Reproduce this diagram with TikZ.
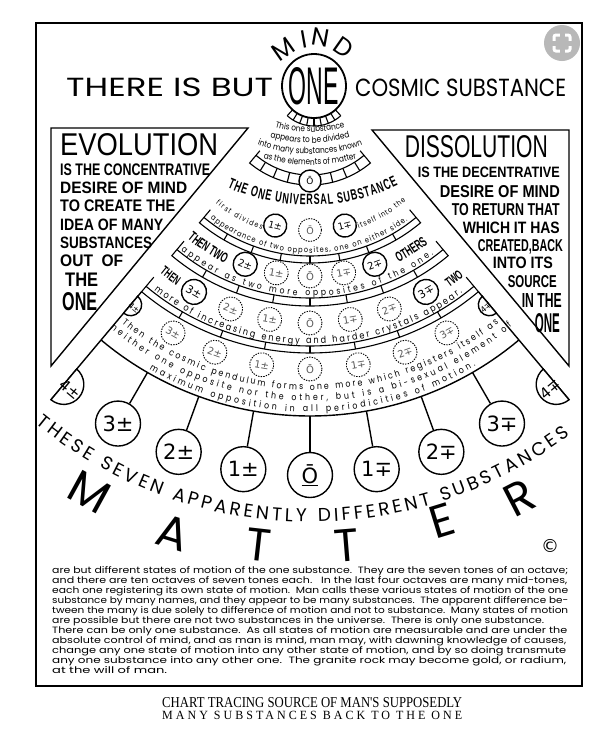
\documentclass[tikz,border=0pt]{standalone}
\usepackage{fontspec}
\usepackage{graphicx}
\usetikzlibrary{calc,decorations.text}
\newfontfamily\pop{Poppins}
\newfontfamily\popn[FakeStretch=0.85]{Poppins}
\newfontfamily\condf[FakeStretch=0.6]{Liberation Sans}
\newfontfamily\boxf[FakeStretch=0.85]{Liberation Sans}
\newfontfamily\dvs{DejaVu Sans}
\newfontfamily\serf{Liberation Serif}
\newcommand\fitbox[3]{\resizebox{#1pt}{#2pt}{#3}}
\newcommand\fz[1]{\fontsize{#1}{#1}\selectfont}
\tikzset{
  ln/.style={line width=1.4pt},
  bandln/.style={line width=1.1pt},
  sc/.style={circle, draw, line width=1.4pt, fill=white, minimum size=#1, inner sep=0pt},
  dc/.style={circle, draw, line width=0.9pt, dash pattern=on 1.4pt off 1.2pt, fill=white, minimum size=#1, inner sep=0pt, text=black!65},
  ftext/.style 2 args={decorate, decoration={text along path, text={|#1|#2}, text align=fit to path}},
  ctext/.style 2 args={decorate, decoration={text along path, text={|#1|#2}, text align=center}},
  txt/.style={inner sep=0pt},
}
\newcommand\bandarc[4]{%
  \draw[bandln] ($(C)+(230:#3)$) -- ($(C)+(230:#2)$) arc[start angle=230,end angle=310,radius=#2] -- ($(C)+(310:#3)$);
  \draw[bandln] ($(C)+(230:#1)$) arc[start angle=230,end angle=310,radius=#1];
  \foreach \tk in {#4} \draw[bandln] ($(C)+(\tk:#1)$) -- ($(C)+(\tk:#2)$);
}
\begin{document}
\begin{tikzpicture}[x=1pt,y=1pt]
\useasboundingbox (0,0) rectangle (606,-745);
\fill[white] (0,0) rectangle (606,-745);
\coordinate (C) at (310,-91);
\coordinate (F) at (310,0);
\coordinate (O) at (314,-86);
% frame
\draw[line width=1.6pt] (36,-23) rectangle (582,-686);
% icon
\fill[black!28] (562,-43) circle (18);
\draw[white, line width=3pt, rounded corners=2pt] (554,-35) rectangle (570,-51);
\fill[black!28] (559.5,-30) rectangle (564.5,-56);
\fill[black!28] (549,-40.5) rectangle (575,-45.5);
% side boxes
\coordinate (ev1) at (51,-128); \coordinate (ev2) at (248,-128); \coordinate (ev3) at (51,-366);
\draw[ln] (ev1) -- (ev2) -- (ev3) -- cycle;
\coordinate (ds1) at (569,-130); \coordinate (ds2) at (372,-130); \coordinate (ds3) at (569,-366);
\draw[ln] (ds1) -- (ds2) -- (ds3) -- cycle;
% left box text
\node[txt, anchor=north west] (e1) at (60,-133) {\fitbox{158}{22}{\boxf EVOLUTION}};
\node[txt, anchor=north west] (e2) at (60,-163.5) {\fitbox{150}{11.7}{\condf\bfseries IS THE CONCENTRATIVE}};
\node[txt, anchor=north west] (e3) at (60,-182) {\fitbox{127}{11.5}{\condf\bfseries DESIRE OF MIND}};
\node[txt, anchor=north west] (e4) at (60,-200) {\fitbox{115}{11.7}{\condf\bfseries TO CREATE THE}};
\node[txt, anchor=north west] (e5) at (60,-218.5) {\fitbox{103}{11.5}{\condf\bfseries IDEA OF MANY}};
\node[txt, anchor=north west] (e6) at (60,-237) {\fitbox{92}{11.5}{\condf\bfseries SUBSTANCES}};
\node[txt, anchor=north west] (e7) at (60,-255) {\fitbox{63}{11.7}{\condf\bfseries OUT\ \ OF}};
\node[txt, anchor=north west] (e8) at (65,-273) {\fitbox{33}{13.5}{\condf\bfseries THE}};
\node[txt, anchor=north west] (e9) at (62,-292) {\fitbox{35}{18}{\condf\bfseries ONE}};
% right box text
\node[txt, anchor=north east] (d1) at (548,-135) {\fitbox{143}{22}{\boxf DISSOLUTION}};
\node[txt, anchor=north east] (d2) at (560,-167) {\fitbox{142}{10.5}{\condf\bfseries IS THE DECENTRATIVE}};
\node[txt, anchor=north east] (d3) at (560,-185) {\fitbox{120}{12}{\condf\bfseries DESIRE OF MIND}};
\node[txt, anchor=north east] (d4) at (560,-203) {\fitbox{108}{12}{\condf\bfseries TO RETURN THAT}};
\node[txt, anchor=north east] (d5) at (560,-222) {\fitbox{97}{11.5}{\condf\bfseries WHICH IT HAS}};
\node[txt, anchor=north east] (d6) at (563,-239) {\fitbox{85}{12}{\condf\bfseries CREATED,BACK}};
\node[txt, anchor=north east] (d7) at (553,-257) {\fitbox{60}{11.5}{\condf\bfseries INTO ITS}};
\node[txt, anchor=north east] (d8) at (557,-275) {\fitbox{49}{12}{\condf\bfseries SOURCE}};
\node[txt, anchor=north east] (d9) at (562,-293) {\fitbox{40}{14}{\condf\bfseries IN THE}};
\node[txt, anchor=north east] (d10) at (560,-313) {\fitbox{25}{19}{\condf\bfseries ONE}};
% title
\node[txt, anchor=north west] (t1) at (66,-78) {\fitbox{207}{18.5}{\pop THERE IS BUT}};
\node[txt, anchor=north west] (t2) at (355,-79) {\fitbox{211}{17.5}{\pop COSMIC SUBSTANCE}};
% comb and ONE
\draw[bandln] ($(O)+(228:40)$) arc[start angle=228,end angle=312,radius=40];
\foreach \tk in {228,238.5,249,259.5,270,280.5,291,301.5,312} \draw[bandln] ($(O)+(\tk:30)$) -- ($(O)+(\tk:40)$);
\node[circle, draw, line width=1.8pt, fill=white, minimum size=64pt, inner sep=0pt] (one) at (O) {};
\node[txt] (onet) at (O) {\fitbox{50}{37}{\condf ONE}};
\node[txt, rotate=35] (mM) at (283,-49) {\pop\fz{25}M};
\node[txt, rotate=10] (mI) at (304,-39) {\pop\fz{25}I};
\node[txt, rotate=-10] (mN) at (321,-37) {\pop\fz{25}N};
\node[txt, rotate=-35] (mD) at (344,-47) {\pop\fz{25}D};
% bands
\bandarc{84}{94}{78}{238,247,256,284,293,302}
\bandarc{165}{172}{155}{240,250,260,270,280,290,300}
\bandarc{207}{215}{196}{240,250,260,270,280,290,300}
\bandarc{255}{262}{243}{240,250,260,270,280,290,300}
% edges and outer arc
\coordinate (eL1) at ($(C)+(230:262)$); \coordinate (eL2) at ($(C)+(230:403)$);
\coordinate (eR1) at ($(C)+(310:262)$); \coordinate (eR2) at ($(C)+(310:403)$);
\draw[ln] (eL1) -- (eL2); \draw[ln] (eR1) -- (eR2);
\draw[ln] ($(C)+(230:325)$) arc[start angle=230,end angle=310,radius=325];
% row 1
\node[sc=22pt] (r1) at ($(C)+(270:90)$) {\dvs\fz{9}Ō};
% row 2
\node[sc=23pt, rotate=-14.5] (r2a) at ($(C)+(255.5:139)$) {\dvs\fz{9.5}1±};
\node[dc=23pt] (r2b) at ($(C)+(270:139)$) {\dvs\fz{9.5}Ō};
\node[sc=23pt, rotate=14.5] (r2c) at ($(C)+(284.5:139)$) {\dvs\fz{9.5}1∓};
% row 3
\foreach \a/\lb [count=\ci] in {259.5/1±, 270/Ō, 280.5/1∓}
  \node[dc=24pt, rotate=\a-270] (r3d\ci) at ($(C)+(\a:185)$) {\dvs\fz{10}\lb};
\node[sc=24pt, rotate=-20.5] (r3a) at ($(C)+(249.5:185)$) {\dvs\fz{10}2±};
\node[sc=24pt, rotate=20.5] (r3b) at ($(C)+(290.5:185)$) {\dvs\fz{10}2∓};
% row 4
\foreach \a/\lb [count=\ci] in {250/2±, 260/1±, 270/Ō, 280/1∓, 290/2∓}
  \node[dc=24pt, rotate=\a-270] (r4d\ci) at ($(C)+(\a:232)$) {\dvs\fz{10}\lb};
\node[sc=25pt, rotate=-30] (r4a) at ($(C)+(240:232)$) {\dvs\fz{11}3±};
\node[sc=25pt, rotate=30] (r4b) at ($(C)+(300:232)$) {\dvs\fz{11}3∓};
% row 5
\foreach \a/\lb [count=\ci] in {240.5/3±, 250/2±, 260/1±, 270/Ō, 280/1∓, 290/2∓, 299.5/3∓}
  \node[dc=24pt, rotate=\a-270] (r5d\ci) at ($(C)+(\a:278)$) {\dvs\fz{10}\lb};
\coordinate (h5L) at ($(C)+(230:279)$);
\draw[ln, fill=white] ($(h5L)+(230:11)$) arc[start angle=230,end angle=410,radius=11] -- cycle;
\node[txt, rotate=-40] (h5Lt) at ($(h5L)+(320:4.5)$) {\dvs\fz{8}4±};
\coordinate (h5R) at ($(C)+(310:279)$);
\draw[ln, fill=white] ($(h5R)+(310:11)$) arc[start angle=310,end angle=130,radius=11] -- cycle;
\node[txt, rotate=40] (h5Rt) at ($(h5R)+(220:4.5)$) {\dvs\fz{8}4∓};
% bottom circles
\foreach \a/\lb [count=\ci] in {240/3±, 250/2±, 260/1±, 270/{\underline{Ō}}, 280/1∓, 290/2∓, 300/3∓}
  \node[sc=45pt] (b\ci) at ($(C)+(\a:384)$) {\dvs\fz{21}\lb};
\foreach \a [count=\ci] in {240,250,260,270,280,290,300} {
  \coordinate (o\ci) at ($(C)+(\a:325)$);
  \draw[ln] (o\ci) -- (b\ci);
}
\coordinate (hbL) at ($(C)+(230:383)$);
\draw[ln, fill=white] ($(hbL)+(230:20)$) arc[start angle=230,end angle=410,radius=20] -- cycle;
\node[txt, rotate=-40] (hbLt) at ($(hbL)+(320:8)$) {\dvs\fz{15}4±};
\coordinate (hbR) at ($(C)+(310:383)$);
\draw[ln, fill=white] ($(hbR)+(310:20)$) arc[start angle=310,end angle=130,radius=20] -- cycle;
\node[txt, rotate=40] (hbRt) at ($(hbR)+(220:8)$) {\dvs\fz{15}4∓};
% fan texts
\path[ctext={\popn\fz{8.6}}{This one substance}] ($(F)+(215:132)$) arc[start angle=215,end angle=325,radius=132];
\path[ctext={\popn\fz{8.6}}{appears to be divided}] ($(F)+(215:143)$) arc[start angle=215,end angle=325,radius=143];
\path[ctext={\popn\fz{8.6}}{into many substances known}] ($(F)+(215:154)$) arc[start angle=215,end angle=325,radius=154];
\path[ctext={\popn\fz{8.6}}{as the elements of matter}] ($(F)+(215:165)$) arc[start angle=215,end angle=325,radius=165];
\path[ftext={\condf\bfseries\fz{15}}{THE ONE UNIVERSAL SUBSTANCE}] ($(F)+(246.2:205)$) arc[start angle=246.2,end angle=295.4,radius=205];
\path[ftext={\popn\fz{7.5}}{first divides}] ($(C)+(230:147)$) arc[start angle=230,end angle=251,radius=147];
\path[ftext={\popn\fz{7.5}}{itself into the}] ($(C)+(289.5:146)$) arc[start angle=289.5,end angle=311,radius=146];
\path[ftext={\popn\fz{7.8}}{appearance of two opposites, one on either side.}] ($(C)+(232:162)$) arc[start angle=232,end angle=307,radius=162];
\path[ctext={\condf\bfseries\fz{14}}{THEN TWO}] ($(C)+(225:192)$) arc[start angle=225,end angle=249,radius=192];
\path[ctext={\condf\bfseries\fz{14}}{OTHERS}] ($(C)+(290.5:193)$) arc[start angle=290.5,end angle=314.5,radius=193];
\path[ftext={\popn\fz{9}}{appear as two more opposites of the one.}] ($(C)+(231:205)$) arc[start angle=231,end angle=307,radius=205];
\path[ctext={\condf\bfseries\fz{13}}{THEN}] ($(C)+(221:236)$) arc[start angle=221,end angle=245,radius=236];
\path[ctext={\condf\bfseries\fz{13}}{TWO}] ($(C)+(295.5:241)$) arc[start angle=295.5,end angle=319.5,radius=241];
\path[ftext={\popn\fz{9.5}}{more of increasing energy and harder crystals appear.}] ($(C)+(232:253)$) arc[start angle=232,end angle=307,radius=253];
\path[ftext={\popn\fz{9.2}}{Then the cosmic pendulum forms one more which registers itself as}] ($(C)+(231:299)$) arc[start angle=231,end angle=309,radius=299];
\path[ftext={\popn\fz{9.2}}{neither one opposite nor the other, but is a bi-sexual element of}] ($(C)+(230:310)$) arc[start angle=230,end angle=310.5,radius=310];
\path[ftext={\popn\fz{9.2}}{maximum opposition in all periodicities of motion.}] ($(C)+(240:321)$) arc[start angle=240,end angle=301,radius=321];
\path[ftext={\pop\fz{18.5}}{THESE SEVEN APPARENTLY DIFFERENT SUBSTANCES}] ($(C)+(230.5:431)$) arc[start angle=230.5,end angle=307,radius=431];
% MATTER
\node[txt, rotate=-28.75] (mt1) at ($(C)+(241.25:458)$) {\pop\fz{46}M};
\node[txt, rotate=-17.2] (mt2) at ($(C)+(252.8:463)$) {\pop\fz{46}A};
\node[txt, rotate=-6.4] (mt3) at ($(C)+(263.6:457)$) {\pop\fz{46}T};
\node[txt, rotate=4.6] (mt4) at ($(C)+(274.6:456)$) {\pop\fz{46}T};
\node[txt, rotate=17.1] (mt5) at ($(C)+(287.1:450)$) {\pop\fz{46}E};
\node[txt, rotate=27.3] (mt6) at ($(C)+(297.3:458)$) {\pop\fz{46}R};
\node[txt] (copy) at (550,-546) {\dvs\fz{18}©};
% paragraph
\node[txt, anchor=base west] (p1) at (52,-573) {\fitbox{516}{7}{\pop\fz{10}are but different states of motion of the one substance.\ \ They are the seven tones of an octave;}};
\node[txt, anchor=base west] (p2) at (52,-583) {\fitbox{515}{7}{\pop\fz{10}and there are ten octaves of seven tones each.\ \ \ In the last four octaves are many mid-tones,}};
\node[txt, anchor=base west] (p3) at (52,-593) {\fitbox{516}{7}{\pop\fz{10}each one registering its own state of motion.\ \ Man calls these various states of motion of the one}};
\node[txt, anchor=base west] (p4) at (52,-603) {\fitbox{516}{7}{\pop\fz{10}substance by many names, and they appear to be many substances.\ \ The apparent difference be-}};
\node[txt, anchor=base west] (p5) at (52,-613) {\fitbox{516}{7}{\pop\fz{10}tween the many is due solely to difference of motion and not to substance.\ \ Many states of motion}};
\node[txt, anchor=base west] (p6) at (52,-623) {\fitbox{492}{7}{\pop\fz{10}are possible but there are not two substances in the universe.\ \ There is only one substance.}};
\node[txt, anchor=base west] (p7) at (52,-633) {\fitbox{515}{7}{\pop\fz{10}There can be only one substance.\ \ As all states of motion are measurable and are under the}};
\node[txt, anchor=base west] (p8) at (52,-643) {\fitbox{514}{7}{\pop\fz{10}absolute control of mind, and as man is mind, man may, with dawning knowledge of causes,}};
\node[txt, anchor=base west] (p9) at (52,-653) {\fitbox{514}{7}{\pop\fz{10}change any one state of motion into any other state of motion, and by so doing transmute}};
\node[txt, anchor=base west] (p10) at (52,-663) {\fitbox{514}{7}{\pop\fz{10}any one substance into any other one.\ \ The granite rock may become gold, or radium,}};
\node[txt, anchor=base west] (p11) at (52,-673) {\fitbox{115}{7}{\pop\fz{10}at the will of man.}};
% caption
\node[txt, anchor=north west] (c1) at (162,-697) {\fitbox{300}{10}{\serf CHART TRACING SOURCE OF MAN'S SUPPOSEDLY}};
\node[txt, anchor=north west] (c2) at (162,-711) {\fitbox{300}{8.3}{\serf\addfontfeature{LetterSpace=25}MANY SUBSTANCES BACK TO THE ONE}};
\end{tikzpicture}
\end{document}
